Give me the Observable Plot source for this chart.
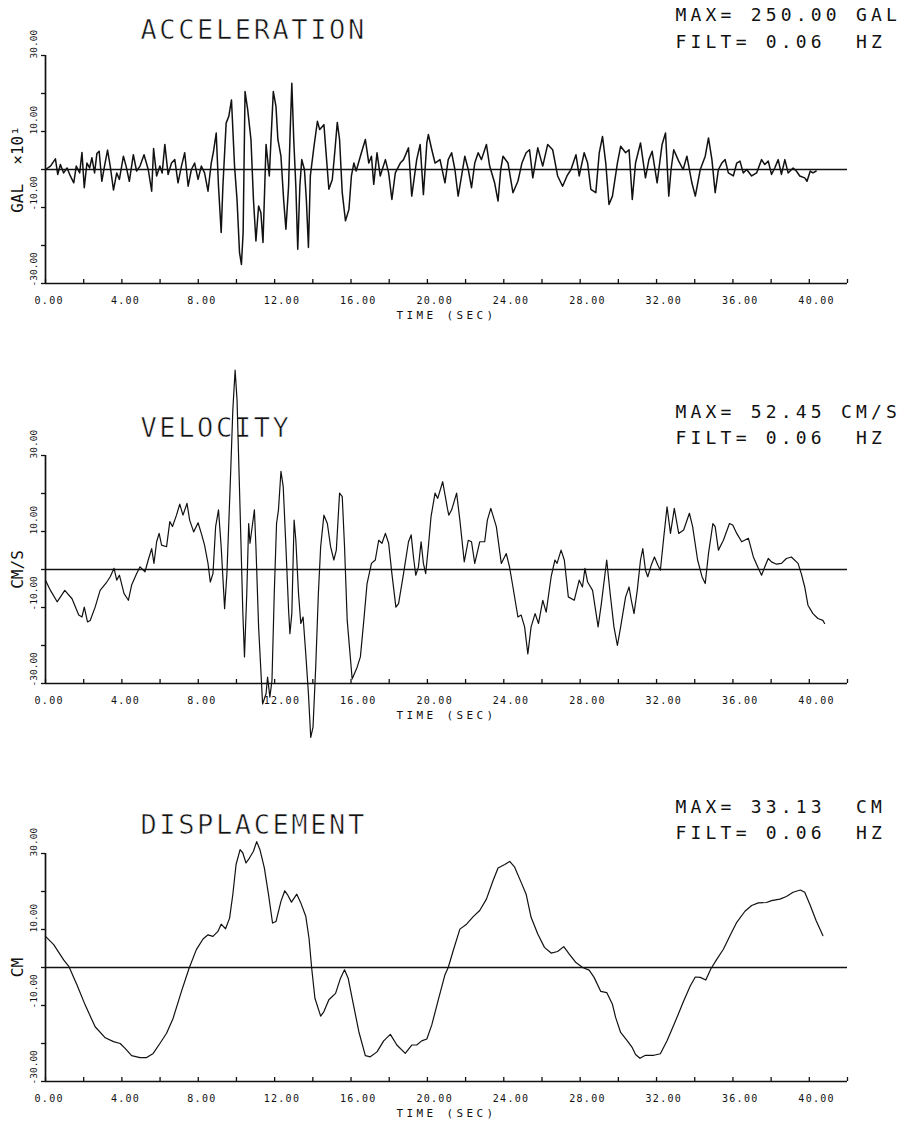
<!DOCTYPE html>
<html>
<head>
<meta charset="utf-8">
<script src="https://cdn.jsdelivr.net/npm/d3@7"></script>
<script src="https://cdn.jsdelivr.net/npm/@observablehq/plot@0.6"></script>
<style>
  body { margin: 0; background: #fff; }
</style>
</head>
<body>
<div id="chart"></div>
<script>
// Time axis: ticks every 2 s, labels every 4 s
const timeTicks = [0, 2, 4, 6, 8, 10, 12, 14, 16, 18, 20, 22, 24, 26, 28, 30, 32, 34, 36, 38, 40, 42];
const timeLabels = [0, 4, 8, 12, 16, 20, 24, 28, 32, 36, 40];
// Amplitude axis shared by the three records
const ampTicks = [-30, -20, -10, 0, 10, 20, 30];
const ampLabels = [-30, -10, 10, 30];

// Acceleration record, [time (s), acceleration (gal x 10)]
const acceleration = [
  [0.00, 0.0], [0.26, 0.9], [0.52, 2.8], [0.64, -1.3], [0.78, 1.3], [0.95, -0.9], [1.13, 0.4], [1.30, -1.7],
  [1.48, -3.5], [1.61, 0.9], [1.79, -0.9], [1.91, 4.5], [2.03, -4.8], [2.17, 1.7], [2.31, 0.4], [2.43, 3.1],
  [2.57, -0.9], [2.69, 4.2], [2.81, 4.8], [2.95, -3.1], [3.09, 0.9], [3.25, 5.1], [3.39, 0.9], [3.56, -5.4],
  [3.73, -0.9], [3.87, -2.6], [4.08, 3.5], [4.22, 0.9], [4.39, -3.1], [4.60, 3.9], [4.77, -0.4], [4.95, 0.9],
  [5.16, 3.9], [5.38, 0.0], [5.56, -5.7], [5.66, 5.5], [5.82, -1.7], [5.99, 0.9], [6.11, -0.9], [6.25, 6.6],
  [6.42, -1.3], [6.60, 1.7], [6.77, 2.6], [6.94, -3.5], [7.12, 0.9], [7.29, 4.4], [7.47, -4.4], [7.64, 0.0],
  [7.81, 1.7], [7.99, -2.6], [8.16, 0.9], [8.33, -0.9], [8.51, -5.7], [8.68, 1.7], [8.80, 4.8], [8.94, 9.6],
  [9.06, -4.4], [9.20, -16.6], [9.29, -4.4], [9.46, 12.2], [9.60, 14.0], [9.74, 18.3], [9.90, 0.9], [10.03, -7.9],
  [10.16, -21.8], [10.26, -25.0], [10.35, -16.6], [10.45, 20.5], [10.59, 15.7], [10.76, 7.9], [10.89, -7.9],
  [11.02, -18.8], [11.16, -9.6], [11.28, -11.4], [11.39, -19.2], [11.55, 6.6], [11.72, -1.7], [11.81, 7.9],
  [11.93, 20.5], [12.07, 16.6], [12.17, 7.9], [12.33, 3.5], [12.47, -7.9], [12.59, -15.7], [12.73, -4.4],
  [12.81, 9.6], [12.90, 22.7], [13.00, 7.9], [13.11, -4.4], [13.21, -21.0], [13.32, -4.4], [13.42, 2.6],
  [13.56, 0.0], [13.66, -7.9], [13.77, -20.5], [13.87, -1.7], [14.06, 6.1], [14.24, 12.7], [14.36, 10.5],
  [14.58, 11.8], [14.72, 2.6], [14.84, -5.2], [15.02, -2.6], [15.16, 5.2], [15.28, 12.4], [15.40, 7.9],
  [15.54, -6.1], [15.71, -13.5], [15.89, -10.5], [16.02, -1.7], [16.15, 1.7], [16.27, -0.4], [16.49, 3.5],
  [16.75, 7.9], [16.93, 1.7], [17.07, 3.5], [17.19, -3.9], [17.36, 4.4], [17.53, -1.7], [17.80, 2.6],
  [17.97, -0.9], [18.14, -7.9], [18.32, -0.9], [18.58, 1.7], [18.75, 2.6], [19.01, 5.7], [19.18, -7.0],
  [19.44, 2.6], [19.62, 6.6], [19.79, -6.6], [19.97, 7.0], [20.05, 9.2], [20.23, 5.2], [20.40, 1.7],
  [20.66, 2.6], [20.92, -3.5], [21.09, 2.6], [21.27, 4.4], [21.44, 0.0], [21.61, -7.0], [21.79, -1.7],
  [21.96, 3.5], [22.14, 0.0], [22.31, -4.8], [22.48, 1.7], [22.66, 4.4], [22.83, 2.6], [23.09, 6.6],
  [23.26, 0.9], [23.52, -3.5], [23.70, -8.3], [23.84, 0.0], [23.96, 3.5], [24.22, 1.7], [24.48, -6.1],
  [24.74, -3.1], [24.95, 1.7], [25.17, 4.4], [25.35, 5.2], [25.52, -2.2], [25.78, 5.7], [26.04, 0.9],
  [26.30, 6.6], [26.56, 5.2], [26.82, -1.7], [27.08, -4.4], [27.31, -1.7], [27.52, 0.0], [27.78, 3.9],
  [27.95, -1.7], [28.21, 4.4], [28.39, 1.7], [28.56, -5.2], [28.82, -6.1], [29.00, 4.4], [29.17, 8.7],
  [29.34, 1.7], [29.51, -9.2], [29.69, -7.0], [29.95, 1.7], [30.12, 6.1], [30.38, 4.4], [30.56, 5.2],
  [30.73, -7.9], [30.90, 1.7], [31.16, 7.0], [31.42, -2.2], [31.60, 2.6], [31.77, 4.8], [32.03, -3.5],
  [32.29, 6.6], [32.47, 9.6], [32.64, -7.0], [32.76, 0.0], [32.90, 5.2], [33.16, 2.2], [33.39, 0.0],
  [33.59, 3.5], [33.85, -3.5], [34.03, -7.0], [34.29, 0.0], [34.55, 3.5], [34.72, 8.3], [34.90, 2.6],
  [35.07, -6.1], [35.24, 0.0], [35.42, 1.7], [35.59, 2.6], [35.76, -0.9], [36.02, -1.7], [36.20, 1.7],
  [36.37, 2.2], [36.54, -0.9], [36.72, 0.0], [36.98, -1.7], [37.24, -0.9], [37.50, 2.6], [37.67, 1.3],
  [37.85, 2.2], [38.02, -1.3], [38.19, 0.4], [38.37, 2.6], [38.54, -1.3], [38.72, 2.6], [38.89, -0.9],
  [39.15, 0.4], [39.32, -0.4], [39.50, -1.7], [39.76, -2.2], [39.88, -3.1], [40.05, -0.4], [40.19, -0.9],
  [40.36, -0.4]
];

// Velocity record, [time (s), velocity (cm/s)]
const velocity = [
  [0.00, -2.8], [0.26, -5.5], [0.61, -8.5], [1.01, -5.5], [1.39, -7.7], [1.74, -12.0], [1.91, -12.5],
  [2.03, -9.9], [2.20, -13.8], [2.34, -13.4], [2.60, -9.9], [2.86, -5.5], [3.21, -3.3], [3.39, -1.9],
  [3.59, 0.3], [3.73, -2.8], [3.87, -1.5], [4.11, -6.3], [4.34, -8.1], [4.51, -4.1], [4.77, -1.1],
  [4.95, 0.7], [5.21, -0.6], [5.38, 2.5], [5.56, 5.5], [5.68, 1.6], [5.82, 7.3], [5.95, 9.5], [6.08, 6.4],
  [6.34, 6.0], [6.51, 12.6], [6.65, 11.3], [6.86, 14.3], [7.03, 17.2], [7.20, 14.3], [7.41, 17.4],
  [7.55, 13.0], [7.76, 9.9], [7.99, 12.3], [8.16, 9.5], [8.33, 6.4], [8.51, 1.6], [8.63, -3.3],
  [8.77, -1.1], [8.91, 11.3], [9.06, 15.7], [9.20, 6.0], [9.38, -10.3], [9.50, -1.1], [9.67, 21.8],
  [9.81, 42.0], [9.93, 52.45], [10.03, 44.7], [10.19, 15.7], [10.33, -10.7], [10.42, -23.0], [10.54, -6.3],
  [10.64, 12.1], [10.71, 6.9], [10.94, 15.7], [11.02, 6.0], [11.16, -15.1], [11.37, -35.4], [11.55, -32.7],
  [11.63, -28.3], [11.75, -33.6], [11.86, -29.2], [11.98, -6.3], [12.10, 12.1], [12.20, 15.7], [12.33, 25.8],
  [12.45, 21.8], [12.59, 6.0], [12.73, -10.7], [12.80, -16.9], [12.90, -11.6], [13.02, 13.0], [13.11, 7.7],
  [13.25, -6.3], [13.37, -14.2], [13.49, -12.5], [13.63, -22.2], [13.77, -32.7], [13.89, -44.2],
  [14.01, -41.5], [14.15, -25.7], [14.29, -6.3], [14.41, 6.0], [14.58, 14.3], [14.76, 12.1], [14.93, 6.0],
  [15.10, 2.5], [15.23, 5.1], [15.40, 20.1], [15.54, 19.2], [15.66, 6.0], [15.80, -13.4], [16.06, -28.8],
  [16.32, -25.7], [16.49, -23.0], [16.67, -13.4], [16.84, -3.7], [17.07, 1.6], [17.27, 2.5], [17.45, 7.7],
  [17.62, 6.9], [17.80, 9.5], [17.97, 6.9], [18.14, -1.1], [18.35, -9.9], [18.49, -9.0], [18.75, -1.1],
  [19.01, 7.3], [19.15, 9.1], [19.27, 3.3], [19.39, -1.5], [19.53, 0.7], [19.67, 7.3], [19.79, 1.6],
  [19.91, -1.1], [20.05, 6.0], [20.19, 13.9], [20.40, 20.1], [20.54, 18.7], [20.80, 23.1], [21.05, 16.0],
  [21.12, 14.3], [21.27, 15.7], [21.53, 20.1], [21.70, 13.0], [21.93, 2.0], [22.14, 7.7], [22.31, 7.3],
  [22.48, 1.6], [22.74, 7.3], [23.00, 7.3], [23.14, 13.0], [23.32, 16.1], [23.61, 11.3], [23.87, 1.6],
  [24.13, 4.2], [24.30, 0.7], [24.48, -4.6], [24.74, -12.5], [24.91, -12.0], [25.09, -15.1], [25.26, -22.2],
  [25.43, -15.1], [25.64, -11.6], [25.82, -14.2], [26.04, -8.1], [26.22, -11.2], [26.48, -1.9], [26.68, 2.5],
  [26.79, 1.6], [27.00, 5.1], [27.17, 2.5], [27.38, -7.2], [27.69, -8.1], [27.95, -2.8], [28.12, -4.6],
  [28.25, 0.3], [28.39, -3.3], [28.65, -5.5], [28.94, -15.1], [29.11, -9.0], [29.39, 2.5], [29.57, -6.3],
  [29.77, -15.1], [29.95, -20.0], [30.12, -15.1], [30.38, -7.2], [30.56, -4.6], [30.68, -8.1], [30.82, -11.6],
  [30.99, -5.5], [31.16, 2.5], [31.28, 5.5], [31.42, -0.2], [31.54, -1.9], [31.72, 1.1], [31.89, 3.3],
  [32.07, 1.1], [32.20, -0.2], [32.38, 8.6], [32.55, 16.5], [32.73, 9.5], [32.93, 16.1], [33.16, 9.5],
  [33.42, 10.4], [33.72, 14.8], [33.89, 11.3], [34.15, 2.5], [34.38, -1.9], [34.55, -3.7], [34.72, 4.2],
  [34.95, 12.1], [35.07, 11.3], [35.24, 5.1], [35.50, 7.7], [35.82, 12.1], [35.99, 11.7], [36.20, 9.5],
  [36.46, 7.3], [36.81, 8.2], [37.07, 3.3], [37.33, 0.3], [37.50, -1.5], [37.67, 0.7], [37.85, 2.9],
  [38.02, 2.0], [38.28, 1.4], [38.54, 1.6], [38.80, 2.9], [39.06, 3.3], [39.41, 1.6], [39.58, -1.1],
  [39.76, -4.6], [39.93, -9.4], [40.19, -11.6], [40.45, -12.9], [40.71, -13.4], [40.80, -14.2]
];

// Displacement record, [time (s), displacement (cm)]
const displacement = [
  [0.00, 8.2], [0.43, 6.0], [0.95, 2.0], [1.22, 0.3], [1.65, -4.6], [2.08, -9.9], [2.60, -15.6], [3.13, -18.5],
  [3.56, -19.5], [3.91, -20.0], [4.17, -21.3], [4.51, -23.2], [4.95, -23.7], [5.30, -23.7], [5.64, -22.6],
  [5.99, -20.0], [6.34, -17.3], [6.68, -13.4], [7.12, -6.3], [7.52, -0.2], [7.90, 4.7], [8.25, 7.5],
  [8.51, 8.6], [8.77, 8.2], [9.03, 9.5], [9.20, 11.4], [9.43, 10.2], [9.64, 13.0], [9.81, 19.2], [9.98, 27.1],
  [10.19, 31.0], [10.33, 30.2], [10.50, 27.5], [10.68, 28.8], [10.89, 30.6], [11.06, 33.13], [11.23, 31.0],
  [11.46, 26.2], [11.68, 19.2], [11.89, 11.7], [12.07, 12.1], [12.33, 17.4], [12.53, 20.2], [12.67, 19.2],
  [12.88, 17.2], [13.16, 19.3], [13.37, 17.0], [13.63, 13.5], [13.80, 7.7], [13.94, -0.2], [14.11, -8.1],
  [14.41, -12.8], [14.58, -11.6], [14.84, -8.5], [15.19, -6.8], [15.45, -2.8], [15.66, -0.6], [15.85, -2.8],
  [16.06, -8.1], [16.41, -16.9], [16.75, -23.2], [17.01, -23.5], [17.36, -22.2], [17.71, -19.3],
  [18.06, -17.6], [18.40, -20.4], [18.84, -22.6], [19.18, -20.4], [19.44, -20.4], [19.70, -19.3],
  [19.97, -18.8], [20.23, -15.1], [20.57, -8.5], [20.92, -1.9], [21.09, 0.0], [21.35, 4.4], [21.70, 10.1],
  [22.05, 11.4], [22.40, 13.4], [22.74, 15.0], [23.09, 18.0], [23.44, 22.9], [23.70, 26.2], [24.05, 27.1],
  [24.31, 27.9], [24.57, 26.4], [24.91, 22.4], [25.17, 19.3], [25.43, 13.2], [25.78, 8.8], [26.13, 5.3],
  [26.48, 3.8], [26.82, 4.2], [27.14, 5.5], [27.43, 3.5], [27.78, 1.3], [28.13, 0.0], [28.47, -0.7],
  [28.73, -2.6], [29.08, -6.3], [29.39, -6.6], [29.69, -9.7], [29.86, -13.2], [30.12, -17.1], [30.47, -19.3],
  [30.73, -21.1], [30.90, -22.9], [31.13, -23.9], [31.42, -23.1], [31.86, -23.1], [32.20, -22.7],
  [32.55, -19.3], [32.99, -14.1], [33.42, -8.8], [33.77, -4.8], [34.03, -2.5], [34.29, -2.6], [34.58, -3.3],
  [34.84, -0.4], [35.16, 2.2], [35.50, 4.8], [35.85, 8.4], [36.20, 11.9], [36.63, 14.8], [36.98, 16.3],
  [37.33, 17.0], [37.76, 17.1], [38.02, 17.6], [38.46, 18.0], [38.80, 18.7], [39.15, 19.8], [39.53, 20.4],
  [39.76, 19.8], [40.02, 16.7], [40.36, 12.3], [40.71, 8.4]
];

const FONT = "'DejaVu Sans Mono', 'Liberation Mono', monospace";
const WIDTH = 905, MARGIN_LEFT = 45, MARGIN_RIGHT = 58;

// Plotter-style lettering: font size -> extra letter spacing
const SIZES = {title: 27, info: 18, tick: 10, time: 11, amp: 9.5, unit: 16};
const SPACING = {27: 2.6, 18: 4.2, 10: 1.3, 11: 3.4, 9.5: 0, 16: 0};

const panels = [
  {data: acceleration, title: "ACCELERATION", unit: "GAL  ×10¹",
   info: ["MAX= 250.00 GAL", "FILT= 0.06  HZ"],
   height: 340, marginTop: 55, marginBottom: 57, titleDy: -25, infoDy: [-40, -13], lineWidth: 1.5},
  {data: velocity, title: "VELOCITY", unit: "CM/S",
   info: ["MAX= 52.45 CM/S", "FILT= 0.06  HZ"],
   height: 400, marginTop: 115, marginBottom: 57, titleDy: -27, infoDy: [-43, -17], lineWidth: 1.2},
  {data: displacement, title: "DISPLACEMENT", unit: "CM",
   info: ["MAX= 33.13  CM", "FILT= 0.06  HZ"],
   height: 381, marginTop: 113, marginBottom: 40, titleDy: -28, infoDy: [-46, -20], lineWidth: 1.2}
];

function panel(p) {
  const frameH = p.height - p.marginTop - p.marginBottom;
  const frameW = WIDTH - MARGIN_LEFT - MARGIN_RIGHT;
  // a thin white outline over the glyphs gives a lighter, pen-like stroke
  const thin = {fill: "#111", stroke: "#fff", strokeWidth: 0.6, paintOrder: "normal"};
  const svg = Plot.plot({
    width: WIDTH,
    height: p.height,
    marginLeft: MARGIN_LEFT,
    marginRight: MARGIN_RIGHT,
    marginTop: p.marginTop,
    marginBottom: p.marginBottom,
    x: {domain: [0, 42], axis: null},
    y: {domain: [-30, 30], axis: null},
    style: {fontFamily: FONT, background: "#fff", color: "#111"},
    marks: [
      // baseline and frame axes
      Plot.ruleY([0], {strokeWidth: 1.4}),
      Plot.ruleY([-30], {strokeWidth: 1.7}),
      Plot.ruleX([0], {strokeWidth: 1.7}),
      // inward time ticks, outward amplitude ticks
      Plot.ruleX(timeTicks, {x: d => d, insetTop: frameH - 4, strokeWidth: 1.3}),
      Plot.tickY(ampTicks, {y: d => d, insetLeft: -4, insetRight: frameW, strokeWidth: 1.3}),
      // tick labels
      Plot.text(timeLabels, {
        x: d => d, text: d => d.toFixed(2), frameAnchor: "bottom", dy: 17, dx: -11,
        textAnchor: "start", lineAnchor: "middle", fontSize: SIZES.tick
      }),
      Plot.text(ampLabels, {
        y: d => d, text: d => d.toFixed(2), frameAnchor: "left", dx: -12, dy: 3, rotate: -90,
        textAnchor: "start", lineAnchor: "middle", fontSize: SIZES.amp
      }),
      // axis titles
      Plot.text([p.unit], {
        text: d => d, frameAnchor: "left", dx: -28, rotate: -90,
        textAnchor: "middle", lineAnchor: "middle", fontSize: SIZES.unit
      }),
      Plot.text(["TIME (SEC)"], {
        text: d => d, frameAnchor: "bottom", dy: 32, textAnchor: "middle", lineAnchor: "middle",
        fontSize: SIZES.time
      }),
      // record title and peak / filter annotation
      Plot.text([p.title], {
        text: d => d, frameAnchor: "top-left", dx: 95, dy: p.titleDy,
        textAnchor: "start", lineAnchor: "middle", fontSize: SIZES.title, ...thin
      }),
      Plot.text([p.info[0]], {
        text: d => d, frameAnchor: "top-left", dx: 630, dy: p.infoDy[0],
        textAnchor: "start", lineAnchor: "middle", fontSize: SIZES.info, fill: "#111"
      }),
      Plot.text([p.info[1]], {
        text: d => d, frameAnchor: "top-left", dx: 630, dy: p.infoDy[1],
        textAnchor: "start", lineAnchor: "middle", fontSize: SIZES.info, fill: "#111"
      }),
      // the time history itself
      Plot.line(p.data, {
        x: d => d[0], y: d => d[1], stroke: "#111", strokeWidth: p.lineWidth, strokeLinejoin: "round"
      })
    ]
  });
  // widen the lettering like a pen plotter
  svg.querySelectorAll("g[font-size]").forEach(g => {
    const s = SPACING[g.getAttribute("font-size")];
    if (s) g.querySelectorAll("text").forEach(t => t.style.letterSpacing = s + "px");
  });
  return svg;
}

const root = document.getElementById("chart");
for (const p of panels) root.appendChild(panel(p));
</script>
</body>
</html>
